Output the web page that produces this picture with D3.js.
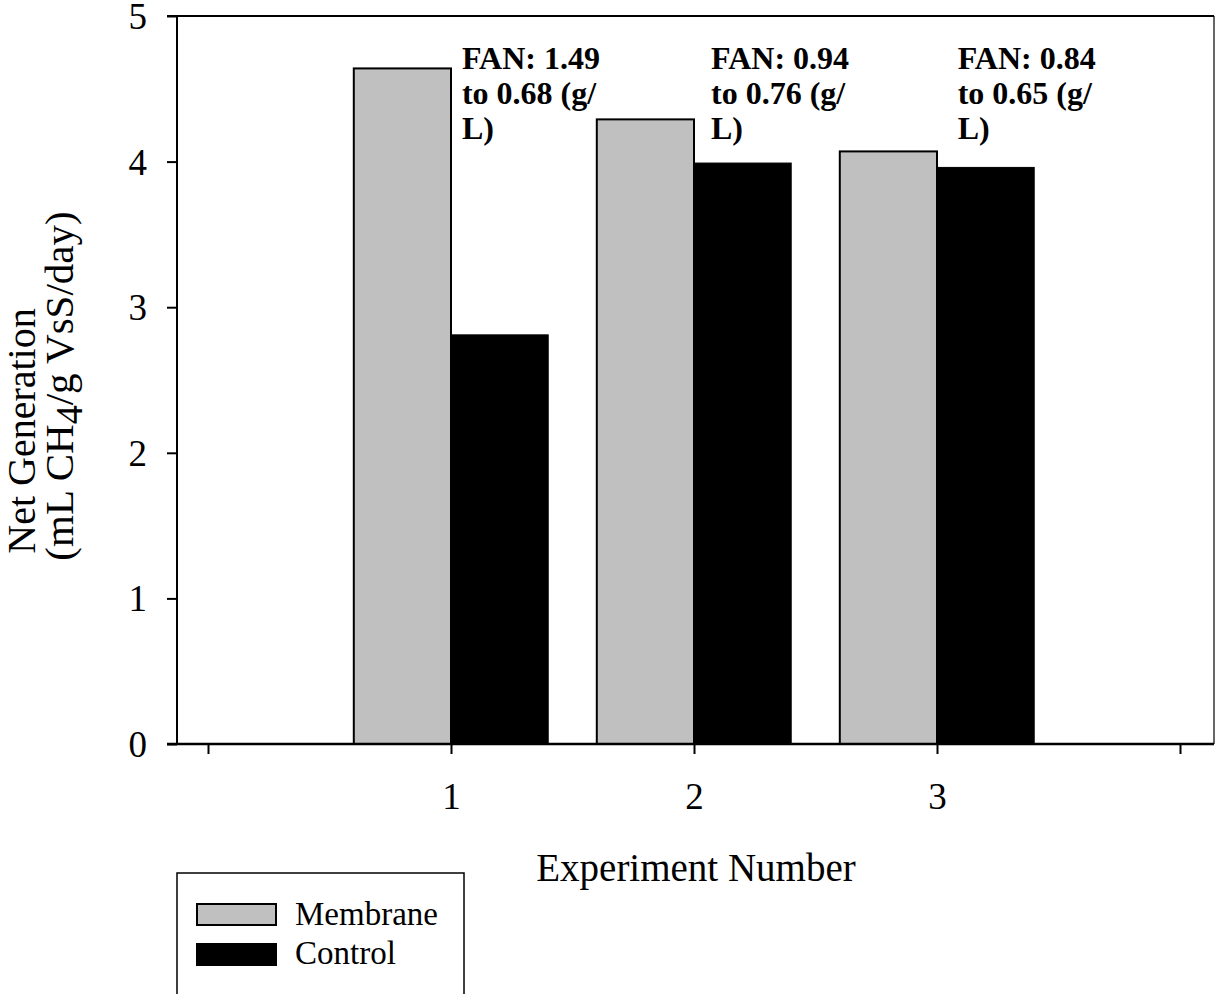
<!DOCTYPE html>
<html>
<head>
<meta charset="utf-8">
<script src="https://cdn.jsdelivr.net/npm/d3@7"></script>
<style>
  html, body { margin: 0; padding: 0; background: #fff; }
  svg { display: block; }
  text { font-family: "Liberation Serif", "Times New Roman", serif; fill: #000; }
</style>
</head>
<body>
<svg id="chart" width="1216" height="994"></svg>
<script>
// ---- data ----
const experiments = [1, 2, 3];
const membrane = [4.64, 4.29, 4.07];
const control = [2.81, 3.99, 3.96];
const seriesNames = ["Membrane", "Control"];
const yTicks = [0, 1, 2, 3, 4, 5];
const xTicks = [0, 1, 2, 3, 4];
const xTickLabels = ["", "1", "2", "3", ""];
const annotations = [
  ["FAN: 1.49", "to 0.68 (g/", "L)"],
  ["FAN: 0.94", "to 0.76 (g/", "L)"],
  ["FAN: 0.84", "to 0.65 (g/", "L)"]
];
const annotationX = [1.045, 2.07, 3.085];

// ---- layout ----
const svg = d3.select("#chart");
const pLeft = 177, pRight = 1214, pTop = 16, pBottom = 744;
const x = d3.scaleLinear().domain([0, 4]).range([208, 1180]);
const y = d3.scaleLinear().domain([0, 5]).range([pBottom, pTop]);
const barW = 0.4;

// bars
const g = svg.append("g");
g.selectAll("rect.mem").data(experiments).enter().append("rect")
  .attr("class", "mem")
  .attr("x", d => x(d - barW))
  .attr("width", (d) => x(d) - x(d - barW))
  .attr("y", (d, i) => y(membrane[i]))
  .attr("height", (d, i) => y(0) - y(membrane[i]))
  .attr("fill", "#c0c0c0").attr("stroke", "#000").attr("stroke-width", 2);
g.selectAll("rect.ctl").data(experiments).enter().append("rect")
  .attr("class", "ctl")
  .attr("x", d => x(d))
  .attr("width", (d) => x(d + barW) - x(d))
  .attr("y", (d, i) => y(control[i]))
  .attr("height", (d, i) => y(0) - y(control[i]))
  .attr("fill", "#000").attr("stroke", "#000").attr("stroke-width", 1);

// frame top/right
svg.append("line").attr("x1", pLeft - 10).attr("x2", pRight).attr("y1", pTop).attr("y2", pTop)
  .attr("stroke", "#000").attr("stroke-width", 2);
svg.append("line").attr("x1", pRight).attr("x2", pRight).attr("y1", pTop).attr("y2", pBottom)
  .attr("stroke", "#000").attr("stroke-width", 1.2);

// y axis
const yAxis = d3.axisLeft(y).tickValues(yTicks).tickSize(10).tickPadding(20).tickFormat(d3.format("d"));
const ya = svg.append("g").attr("transform", `translate(${pLeft},0)`).call(yAxis);
ya.select(".domain").attr("d", `M0,${pTop}V${pBottom}`).attr("stroke-width", 2);
ya.selectAll(".tick line").attr("stroke-width", 2);
ya.selectAll(".tick text").attr("font-size", 37).attr("font-family", "Liberation Serif").attr("dy", "0.34em");

// x axis
const xAxis = d3.axisBottom(x).tickValues(xTicks).tickSize(10).tickPadding(29)
  .tickFormat((d, i) => xTickLabels[i]);
const xa = svg.append("g").attr("transform", `translate(0,${pBottom})`).call(xAxis);
xa.select(".domain").attr("d", `M${pLeft - 10},0H${pRight}`).attr("stroke-width", 2.5);
xa.selectAll(".tick line").attr("stroke-width", 2);
xa.selectAll(".tick text").attr("font-size", 37).attr("font-family", "Liberation Serif");

// axis titles
svg.append("text").attr("x", 696).attr("y", 881).attr("text-anchor", "middle")
  .attr("font-size", 39).text("Experiment Number");

svg.append("text").attr("transform", "translate(35,431) rotate(-90)")
  .attr("text-anchor", "middle").attr("font-size", 40).text("Net Generation");
const t2 = svg.append("text").attr("transform", "translate(73,386) rotate(-90)")
  .attr("text-anchor", "middle").attr("font-size", 41);
t2.append("tspan").text("(mL CH");
t2.append("tspan").attr("dy", 9).attr("font-size", 38).text("4");
t2.append("tspan").attr("dy", -9).text("/g VsS/day)");

// annotations
annotations.forEach((lines, i) => {
  const t = svg.append("text").attr("font-size", 32).attr("font-weight", "bold");
  lines.forEach((ln, j) => {
    t.append("tspan").attr("x", x(annotationX[i])).attr("y", 69 + j * 35).text(ln);
  });
});

// legend
const lg = svg.append("g");
lg.append("rect").attr("x", 177).attr("y", 873).attr("width", 287).attr("height", 140)
  .attr("fill", "none").attr("stroke", "#000").attr("stroke-width", 1.5);
const fills = ["#c0c0c0", "#000"];
seriesNames.forEach((name, i) => {
  lg.append("rect").attr("x", 197).attr("y", 904 + i * 40).attr("width", 79).attr("height", 21)
    .attr("fill", fills[i]).attr("stroke", "#000").attr("stroke-width", 2);
  lg.append("text").attr("x", 295).attr("y", 925 + i * 39).attr("font-size", 33).text(name);
});
</script>
</body>
</html>
